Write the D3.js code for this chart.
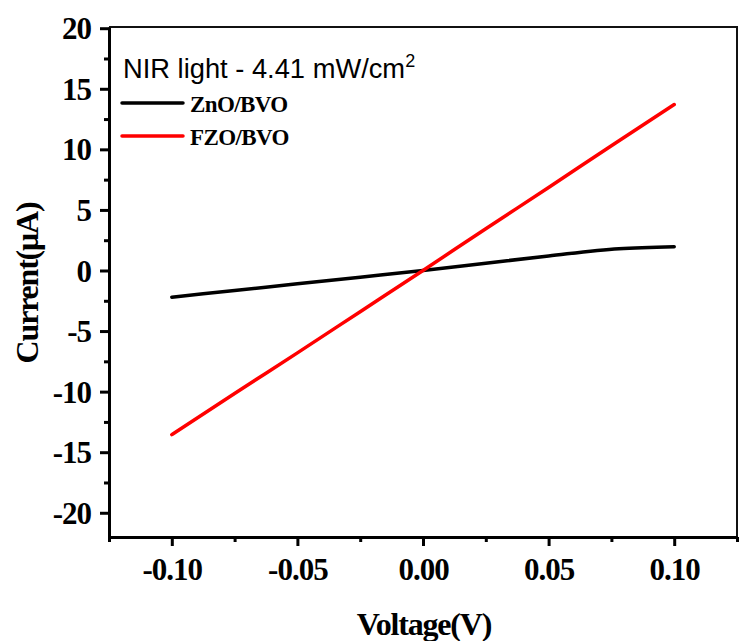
<!DOCTYPE html>
<html>
<head>
<meta charset="utf-8">
<script src="https://cdn.jsdelivr.net/npm/d3@7"></script>
<style>
  body { margin: 0; background: #fff; }
  svg { display: block; }
</style>
</head>
<body>
<script>
// data
const voltage = [-0.1, -0.075, -0.05, -0.025, 0, 0.025, 0.05, 0.078, 0.1];
const znoCurrent = [-2.2, -1.65, -1.1, -0.55, 0, 0.6, 1.2, 1.8, 1.97];
const fzoVoltage = [-0.1, -0.075, -0.05, -0.025, 0, 0.025, 0.05, 0.075, 0.1];
const fzoCurrent = [-13.55, -10.15, -6.8, -3.4, 0, 3.45, 6.85, 10.3, 13.7];

const xTicks = [-0.10, -0.05, 0.00, 0.05, 0.10];
const xMinor = [-0.125, -0.075, -0.025, 0.025, 0.075, 0.125];
const yTicks = [-20, -15, -10, -5, 0, 5, 10, 15, 20];
const yMinor = [-17.5, -12.5, -7.5, -2.5, 2.5, 7.5, 12.5, 17.5];

const series = [
  {name: "ZnO/BVO", xs: voltage, values: znoCurrent, color: "#000000"},
  {name: "FZO/BVO", xs: fzoVoltage, values: fzoCurrent, color: "#ff0000"}
];

const width = 739, height = 641;
const mLeft = 109, mRight = 737, mTop = 27, mBottom = 537;
const serif = "'Liberation Serif','Times New Roman',serif";

const x = d3.scaleLinear().domain([-0.125, 0.125]).range([mLeft, mRight]);
const y = d3.scaleLinear().domain([-22, 20.1]).range([mBottom, mTop]);

// plain hyphen for negatives, like the original
const hy = f => d => f(d).replace("\u2212", "-");

const svg = d3.select("body").append("svg")
    .attr("width", width)
    .attr("height", height);

// frame (top + right thinner)
svg.append("path")
    .attr("d", `M${mLeft},${mTop}H${mRight}V${mBottom}`)
    .attr("fill", "none")
    .attr("stroke", "#111")
    .attr("stroke-width", 2);

// x axis
const gx = svg.append("g").attr("transform", `translate(0,${mBottom})`);
gx.call(d3.axisBottom(x).tickValues(xTicks).tickSize(9).tickSizeOuter(0)
    .tickPadding(12).tickFormat(hy(d3.format(".2f"))));
gx.append("g").call(d3.axisBottom(x).tickValues(xMinor).tickSize(5).tickFormat(""))
    .select(".domain").remove();

// y axis
const gy = svg.append("g").attr("transform", `translate(${mLeft},0)`);
gy.call(d3.axisLeft(y).tickValues(yTicks).tickSize(9).tickSizeOuter(0)
    .tickPadding(9).tickFormat(hy(d3.format("d"))));
gy.append("g").call(d3.axisLeft(y).tickValues(yMinor).tickSize(5).tickFormat(""))
    .select(".domain").remove();

svg.selectAll(".domain").attr("stroke", "#000").attr("stroke-width", 3);
svg.selectAll(".tick line").attr("stroke", "#000").attr("stroke-width", 3);
svg.selectAll(".tick text")
    .attr("fill", "#000")
    .style("font-family", serif)
    .style("font-weight", "bold")
    .style("font-size", "31px")
    .style("letter-spacing", "-1px");
gy.selectAll(".tick text").attr("dy", "0.34em");
gx.selectAll(".tick text").attr("dy", "0.71em");

// lines
const line = d3.line()
    .x(d => x(d[0]))
    .y(d => y(d[1]))
    .curve(d3.curveMonotoneX);

svg.append("g")
  .selectAll("path")
  .data(series)
  .join("path")
    .attr("d", d => line(d.xs.map((v, i) => [v, d.values[i]])))
    .attr("fill", "none")
    .attr("stroke", d => d.color)
    .attr("stroke-width", 3.5)
    .attr("stroke-linecap", "round")
    .attr("stroke-linejoin", "round");

// axis titles
svg.append("text")
    .attr("x", 424)
    .attr("y", 635)
    .attr("text-anchor", "middle")
    .style("font-family", serif)
    .style("font-weight", "bold")
    .style("font-size", "32px")
    .style("letter-spacing", "-1.2px")
    .text("Voltage(V)");

svg.append("text")
    .attr("transform", "translate(38,283) rotate(-90)")
    .attr("text-anchor", "middle")
    .style("font-family", serif)
    .style("font-weight", "bold")
    .style("font-size", "32px")
    .style("letter-spacing", "-1.2px")
    .text("Current(μA)");

// legend
const title = svg.append("text")
    .attr("x", 123)
    .attr("y", 78)
    .style("font-family", "'Liberation Sans',Arial,sans-serif")
    .style("font-size", "27.3px")
    .text("NIR light - 4.41 mW/cm");
title.append("tspan")
    .attr("dy", "-11")
    .style("font-size", "18px")
    .text("2");

const legend = svg.append("g")
  .selectAll("g")
  .data(series)
  .join("g")
    .attr("transform", (d, i) => `translate(122,${103 + i * 33})`);

legend.append("line")
    .attr("x1", 0).attr("x2", 61)
    .attr("stroke", d => d.color)
    .attr("stroke-width", 3.5)
    .attr("stroke-linecap", "round");

legend.append("text")
    .attr("x", 68)
    .attr("y", 9)
    .style("font-family", serif)
    .style("font-weight", "bold")
    .style("font-size", "23px")
    .style("letter-spacing", "-0.6px")
    .text(d => d.name);
</script>
</body>
</html>
